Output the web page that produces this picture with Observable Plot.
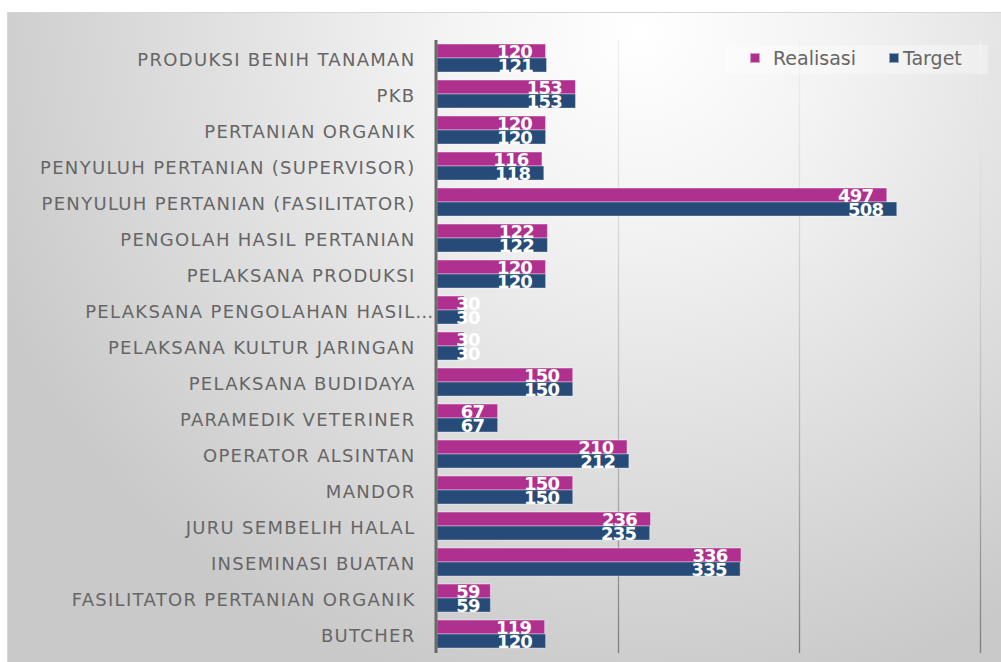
<!DOCTYPE html>
<html><head><meta charset="utf-8">
<script src="https://cdn.jsdelivr.net/npm/d3@7"></script>
<script src="https://cdn.jsdelivr.net/npm/@observablehq/plot@0.6"></script>
<style>
body{margin:0;background:#fff;}
#wrap{position:relative;width:1001px;height:662px;overflow:hidden;background:#fff;}
#panel{position:absolute;left:7px;top:12px;width:1000px;height:660px;border:1px solid #d6d6d6;
  background:radial-gradient(ellipse 700px 680px at 630px 20px, #ffffff 0%, #f3f3f3 28%, #c9c9c9 100%);}
#chart{position:absolute;left:0;top:0;}
#chart [aria-label="y-axis tick label"] text{letter-spacing:1.3px;}
#legend{position:absolute;left:725px;top:45px;width:263px;height:29px;background:rgba(255,255,255,0.35);
  font-family:"DejaVu Sans";font-size:19px;color:#666;}
#legend .sw{position:absolute;top:8px;width:10px;height:10px;box-sizing:border-box;border:1px solid rgba(255,255,255,0.5);}
#legend .lb{position:absolute;top:2px;line-height:22px;white-space:nowrap;}
</style></head><body>
<div id="wrap"><div id="panel"></div><div id="chart"></div><div id="legend"></div></div>
<script>
const categories = [
  "PRODUKSI BENIH TANAMAN",
  "PKB",
  "PERTANIAN ORGANIK",
  "PENYULUH PERTANIAN (SUPERVISOR)",
  "PENYULUH PERTANIAN (FASILITATOR)",
  "PENGOLAH HASIL PERTANIAN",
  "PELAKSANA PRODUKSI",
  "PELAKSANA PENGOLAHAN HASIL…",
  "PELAKSANA KULTUR JARINGAN",
  "PELAKSANA BUDIDAYA",
  "PARAMEDIK VETERINER",
  "OPERATOR ALSINTAN",
  "MANDOR",
  "JURU SEMBELIH HALAL",
  "INSEMINASI BUATAN",
  "FASILITATOR PERTANIAN ORGANIK",
  "BUTCHER"
];
const realisasi = [120, 153, 120, 116, 497, 122, 120, 30, 30, 150, 67, 210, 150, 236, 336, 59, 119];
const target    = [121, 153, 120, 118, 508, 122, 120, 30, 30, 150, 67, 212, 150, 235, 335, 59, 120];
const seriesNames = ["Realisasi", "Target"];
const seriesColors = ["#B0308F", "#274B78"];
const gridTicks = [200, 400, 600];

const rows = categories.map((c, i) => ({category: c, realisasi: realisasi[i], target: target[i]}));
const half = 14;
const labelMin = 62;

const chart = Plot.plot({
  width: 1001,
  height: 662,
  marginLeft: 437,
  marginRight: 21,
  marginTop: 40,
  marginBottom: 9,
  style: {fontFamily: "DejaVu Sans", background: "transparent"},
  x: {domain: [0, 600], axis: null},
  y: {type: "band", domain: categories, paddingInner: 0.22, paddingOuter: 0.11, axis: null, label: null},
  marks: [
    Plot.ruleX(gridTicks, {stroke: "url(#gridGrad)", strokeWidth: 1.3}),
    Plot.axisY({tickSize: 0, tickPadding: 22, fontSize: 18, fill: "#666", label: null, dy: 1.5, tickFormat: d => d.replace("…", "")}),
    Plot.text(rows.filter(d => d.category.endsWith("…")), {x: 0, y: "category", text: () => "…", textAnchor: "end", dx: -5, dy: 1.5, fontSize: 18, fill: "#666"}),
    Plot.barX(rows, {y: "category", x: "realisasi", fill: seriesColors[0], stroke: "#fff", strokeOpacity: 0.45, strokeWidth: 1, insetBottom: half}),
    Plot.barX(rows, {y: "category", x: "target", fill: seriesColors[1], stroke: "#fff", strokeOpacity: 0.35, strokeWidth: 1, insetTop: half}),
    Plot.ruleX([0], {stroke: "#6a6a6a", strokeWidth: 3, dx: -1.5}),
    Plot.text(rows, {x: d => Math.max(d.realisasi, labelMin), y: "category", text: "realisasi", textAnchor: "end", dx: -14, dy: -6, fill: "#fff", fontWeight: "bold", fontSize: 18}),
    Plot.text(rows, {x: d => Math.max(d.target, labelMin), y: "category", text: "target", textAnchor: "end", dx: -14, dy: 7.5, fill: "#fff", fontWeight: "bold", fontSize: 18})
  ]
});

const ns = "http://www.w3.org/2000/svg";
const defs = document.createElementNS(ns, "defs");
const lg = document.createElementNS(ns, "linearGradient");
lg.setAttribute("id", "gridGrad");
lg.setAttribute("gradientUnits", "userSpaceOnUse");
lg.setAttribute("x1", "0"); lg.setAttribute("y1", "40");
lg.setAttribute("x2", "0"); lg.setAttribute("y2", "653");
[[0, "#f0f0f0"], [0.3, "#d8d8d8"], [0.7, "#b0b0b0"], [1, "#7c7c7c"]].forEach(([o, c]) => {
  const s = document.createElementNS(ns, "stop");
  s.setAttribute("offset", o); s.setAttribute("stop-color", c);
  lg.appendChild(s);
});
defs.appendChild(lg);
chart.insertBefore(defs, chart.firstChild);
chart.querySelectorAll('[aria-label="text"] text').forEach(t => t.style.letterSpacing = "-0.8px");
document.getElementById("chart").appendChild(chart);

const legend = document.getElementById("legend");
const pos = [[25, 48], [164, 178]];
seriesNames.forEach((name, i) => {
  const sw = document.createElement("div");
  sw.className = "sw"; sw.style.left = pos[i][0] + "px"; sw.style.background = seriesColors[i];
  const lb = document.createElement("div");
  lb.className = "lb"; lb.style.left = pos[i][1] + "px"; lb.textContent = name;
  legend.appendChild(sw); legend.appendChild(lb);
});
</script>
</body></html>
